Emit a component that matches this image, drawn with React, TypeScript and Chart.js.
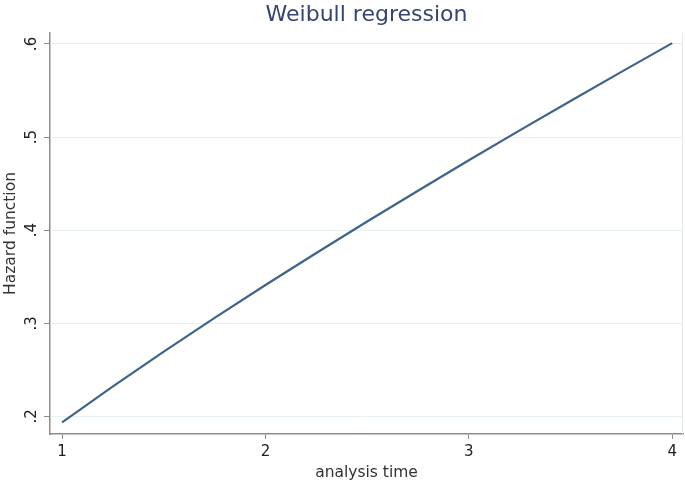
import React, { useEffect, useRef } from "react";
import { Chart, registerables } from "chart.js";

Chart.register(...registerables);

const analysisTime = [1, 1.25, 1.5, 1.75, 2, 2.25, 2.5, 2.75, 3, 3.25, 3.5, 3.75, 4];
const hazard = [0.1936, 0.2323, 0.2696, 0.3058, 0.3411, 0.3755, 0.4093, 0.4424, 0.4751, 0.5072, 0.5388, 0.57, 0.6009];
const xTicks = [1, 2, 3, 4];
const yTicks = [0.2, 0.3, 0.4, 0.5, 0.6];
const yTickLabels = [".2", ".3", ".4", ".5", ".6"];

const FONT = "'DejaVu Sans', sans-serif";
const AXIS = "#8c8c8c";

const rightEdge = {
  id: "rightEdge",
  afterDraw(chart: any) {
    const { ctx, chartArea } = chart;
    ctx.save();
    ctx.strokeStyle = "#e2eaec";
    ctx.lineWidth = 1;
    ctx.beginPath();
    ctx.moveTo(chartArea.right - 0.5, chartArea.top);
    ctx.lineTo(chartArea.right - 0.5, chartArea.bottom);
    ctx.stroke();
    ctx.restore();
  },
};

export default function App() {
  const ref = useRef<HTMLCanvasElement | null>(null);

  useEffect(() => {
    document.body.style.margin = "0";
    if (!ref.current) return;
    const chart = new Chart(ref.current, {
      type: "line",
      data: {
        datasets: [
          {
            data: analysisTime.map((t, i) => ({ x: t, y: hazard[i] })),
            borderColor: "#40638a",
            borderWidth: 2.2,
            pointRadius: 0,
            tension: 0,
            fill: false,
          },
        ],
      },
      options: {
        animation: false,
        responsive: true,
        maintainAspectRatio: false,
        layout: { padding: { left: 0, right: 2, top: 0, bottom: 0 } },
        plugins: {
          legend: { display: false },
          tooltip: { enabled: false },
          title: {
            display: true,
            fullSize: false,
            text: "Weibull regression",
            color: "#34466e",
            font: { family: FONT, size: 22, weight: "normal" },
            padding: { top: 2, bottom: 4.6 },
          },
        },
        scales: {
          x: {
            type: "linear",
            min: 0.9405,
            max: 4.053,
            afterBuildTicks: (s: any) => {
              s.ticks = xTicks.map((v) => ({ value: v }));
            },
            afterFit: (s: any) => {
              s.height = 53;
            },
            grid: { drawOnChartArea: false, tickLength: 5, tickColor: AXIS, tickWidth: 1 },
            border: { color: AXIS, width: 1.5 },
            ticks: {
              color: "#222",
              font: { family: FONT, size: 15 },
              padding: 4,
              maxRotation: 0,
              autoSkip: false,
              callback: (v: any) => String(v),
            },
            title: {
              display: true,
              text: "analysis time",
              color: "#333",
              font: { family: FONT, size: 15.5 },
              padding: { top: 0, bottom: 5 },
            },
          },
          y: {
            type: "linear",
            min: 0.1811,
            max: 0.6118,
            afterBuildTicks: (s: any) => {
              s.ticks = yTicks.map((v) => ({ value: v }));
            },
            afterFit: (s: any) => {
              s.width = 50;
            },
            grid: { color: "#e8f1f2", lineWidth: 1, tickLength: 6, tickColor: AXIS, tickWidth: 1 },
            border: { color: AXIS, width: 1.5 },
            ticks: {
              color: "#222",
              font: { family: FONT, size: 15 },
              padding: 5,
              minRotation: 90,
              maxRotation: 90,
              crossAlign: "center",
              autoSkip: false,
              callback: (v: any) => {
                const i = yTicks.findIndex((t) => Math.abs(t - v) < 1e-9);
                return i >= 0 ? yTickLabels[i] : "";
              },
            },
            title: {
              display: true,
              text: "Hazard function",
              color: "#333",
              font: { family: FONT, size: 15.5 },
              padding: { top: 2, bottom: 0 },
            },
          },
        },
      },
      plugins: [rightEdge],
    } as any);
    return () => chart.destroy();
  }, []);

  return (
    <div style={{ width: 685, height: 487, position: "relative" }}>
      <canvas ref={ref} />
    </div>
  );
}
